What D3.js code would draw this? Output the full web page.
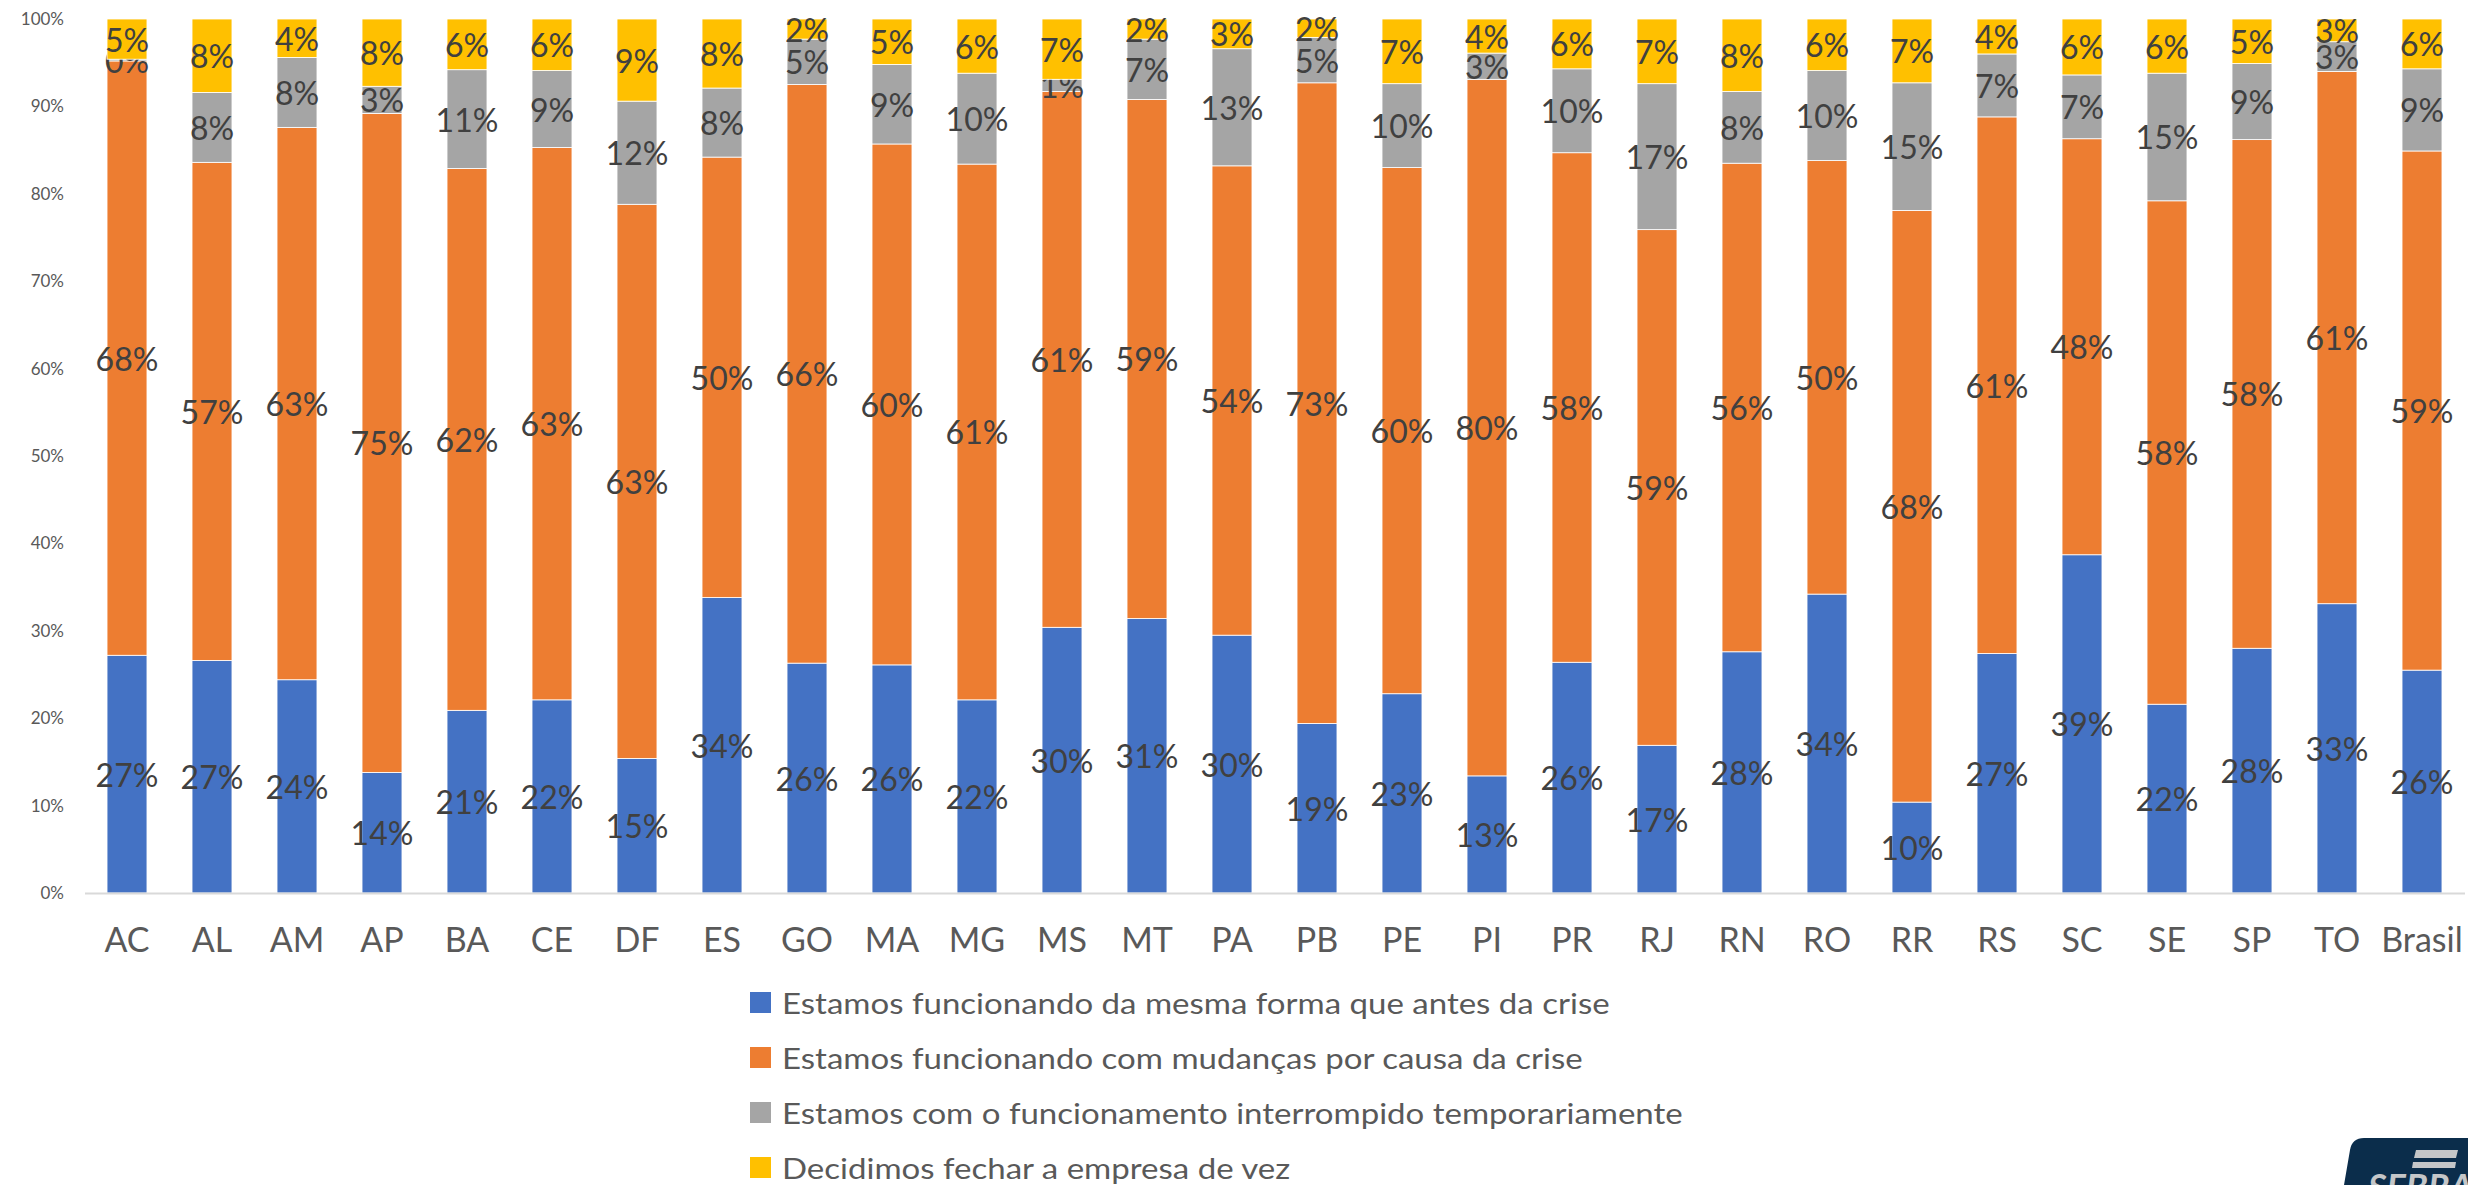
<!DOCTYPE html>
<html>
<head>
<meta charset="utf-8">
<script src="https://cdn.jsdelivr.net/npm/d3@7"></script>
<style>
  body { margin: 0; background: #fff; }
  svg { display: block; font-family: Lato, "Open Sans", sans-serif; }
</style>
</head>
<body>
<svg id="chart" width="2468" height="1185"></svg>
<script>
const categories = ["AC", "AL", "AM", "AP", "BA", "CE", "DF", "ES", "GO", "MA", "MG", "MS", "MT", "PA",
  "PB", "PE", "PI", "PR", "RJ", "RN", "RO", "RR", "RS", "SC", "SE", "SP", "TO", "Brasil"];

// shares in %
const mesmaForma    = [27.2, 26.6, 24.4, 13.8, 20.9, 22.1, 15.4, 33.8, 26.3, 26.1, 22.1, 30.4, 31.4, 29.5,
  19.4, 22.8, 13.4, 26.4, 16.9, 27.6, 34.2, 10.4, 27.4, 38.7, 21.6, 28.0, 33.1, 25.5];
const comMudancas   = [68.0, 57.0, 63.2, 75.4, 62.0, 63.2, 63.4, 50.4, 66.2, 59.6, 61.3, 61.3, 59.4, 53.7,
  73.3, 60.2, 79.7, 58.3, 59.0, 55.9, 49.6, 67.7, 61.4, 47.6, 57.6, 58.2, 60.9, 59.4];
const interrompido  = [0.2, 8.0, 8.0, 3.1, 11.3, 8.8, 11.8, 7.9, 5.2, 9.1, 10.4, 1.4, 6.9, 13.4,
  5.2, 9.6, 3.0, 9.6, 16.7, 8.2, 10.3, 14.6, 7.2, 7.3, 14.6, 8.7, 3.4, 9.4];
const fechar        = [4.6, 8.4, 4.4, 7.7, 5.8, 5.9, 9.4, 7.9, 2.3, 5.2, 6.2, 6.9, 2.3, 3.4,
  2.1, 7.4, 3.9, 5.7, 7.4, 8.3, 5.9, 7.3, 4.0, 6.4, 6.2, 5.1, 2.6, 5.7];

const seriesNames = [
  "Estamos funcionando da mesma forma que antes da crise",
  "Estamos funcionando com mudanças por causa da crise",
  "Estamos com o funcionamento interrompido temporariamente",
  "Decidimos fechar a empresa de vez"
];
const colors = ["#4472c4", "#ed7d31", "#a5a5a5", "#ffc000"];
const yTicks = [0, 0.1, 0.2, 0.3, 0.4, 0.5, 0.6, 0.7, 0.8, 0.9, 1];

const svg = d3.select("#chart");

const x = d3.scaleBand().domain(categories).range([84.5, 2464.5])
  .paddingInner(0.53).paddingOuter(0.265);
const y = d3.scaleLinear().domain([0, 1]).range([893, 19]);

// build rows for the stack
const keys = ["a", "b", "c", "d"];
const rows = categories.map((c, i) => ({
  cat: c,
  a: mesmaForma[i] / 100,
  b: comMudancas[i] / 100,
  c: interrompido[i] / 100,
  d: fechar[i] / 100
}));
const stacked = d3.stack().keys(keys)(rows);

// y axis (labels only)
const yAxis = svg.append("g")
  .attr("transform", "translate(66,0)")
  .call(d3.axisLeft(y).tickValues(yTicks).tickFormat(d3.format(".0%")).tickSize(0).tickPadding(2));
yAxis.select(".domain").remove();
yAxis.selectAll("text").attr("font-size", 17).attr("fill", "#595959")
  .attr("font-family", "Lato, sans-serif");

// bars
const layers = svg.append("g").selectAll("g").data(stacked).join("g")
  .attr("fill", (d, i) => colors[i]);

layers.selectAll("rect").data(d => d).join("rect")
  .attr("x", d => x(d.data.cat))
  .attr("width", x.bandwidth())
  .attr("y", d => y(d[1]))
  .attr("height", d => y(d[0]) - y(d[1]))
  .attr("stroke", "#ffffff")
  .attr("stroke-width", 0.8);

// x axis
const xAxis = svg.append("g")
  .attr("transform", "translate(0,893)")
  .call(d3.axisBottom(x).tickSize(0).tickPadding(35));
xAxis.select(".domain").attr("stroke", "#d9d9d9").attr("stroke-width", 2);
xAxis.selectAll("text").attr("font-size", 34).attr("fill", "#595959")
  .attr("font-family", "Lato, sans-serif");

// data labels
const fmt = d3.format(".0%");
layers.selectAll("text").data(d => d).join("text")
  .attr("x", d => x(d.data.cat) + x.bandwidth() / 2)
  .attr("y", d => (y(d[0]) + y(d[1])) / 2)
  .attr("text-anchor", "middle")
  .attr("dominant-baseline", "central")
  .attr("font-size", 32)
  .attr("fill", "#404040")
  .text(d => fmt(Math.round((d[1] - d[0]) * 1000) / 1000));

// legend
const legend = svg.append("g").attr("transform", "translate(750,992)");
const li = legend.selectAll("g").data(seriesNames).join("g")
  .attr("transform", (d, i) => `translate(0,${i * 55})`);
li.append("rect").attr("width", 21).attr("height", 21).attr("fill", (d, i) => colors[i]);
const lt = li.append("g").attr("transform", "translate(32,11)")
  .append("text").attr("dominant-baseline", "central")
  .attr("font-size", 29).attr("fill", "#595959").text(d => d);
// the legend text in the reference is drawn a bit wider than Lato, stretch to fit
const firstLen = lt.node().getComputedTextLength();
const k = 828 / firstLen;
lt.attr("transform", `scale(${k},1)`);

// logo corner (cut off at page edge)
const logo = svg.append("g");
logo.append("path")
  .attr("d", "M2344,1185 L2350,1150 Q2352,1138 2364,1138 L2468,1138 L2468,1185 Z")
  .attr("fill", "#0b2d4b");
logo.append("path").attr("d", "M2416,1150 L2458,1150 L2456,1158 L2414,1158 Z").attr("fill", "#c4c6c8");
logo.append("path").attr("d", "M2413,1162 L2456,1162 L2455,1168 L2412,1168 Z").attr("fill", "#c4c6c8");
logo.append("text").attr("x", 2368).attr("y", 1200)
  .attr("font-size", 36).attr("font-weight", "bold").attr("font-style", "italic")
  .attr("fill", "#c4c6c8").attr("font-family", "Lato, sans-serif").text("SEBRAE");
</script>
</body>
</html>
